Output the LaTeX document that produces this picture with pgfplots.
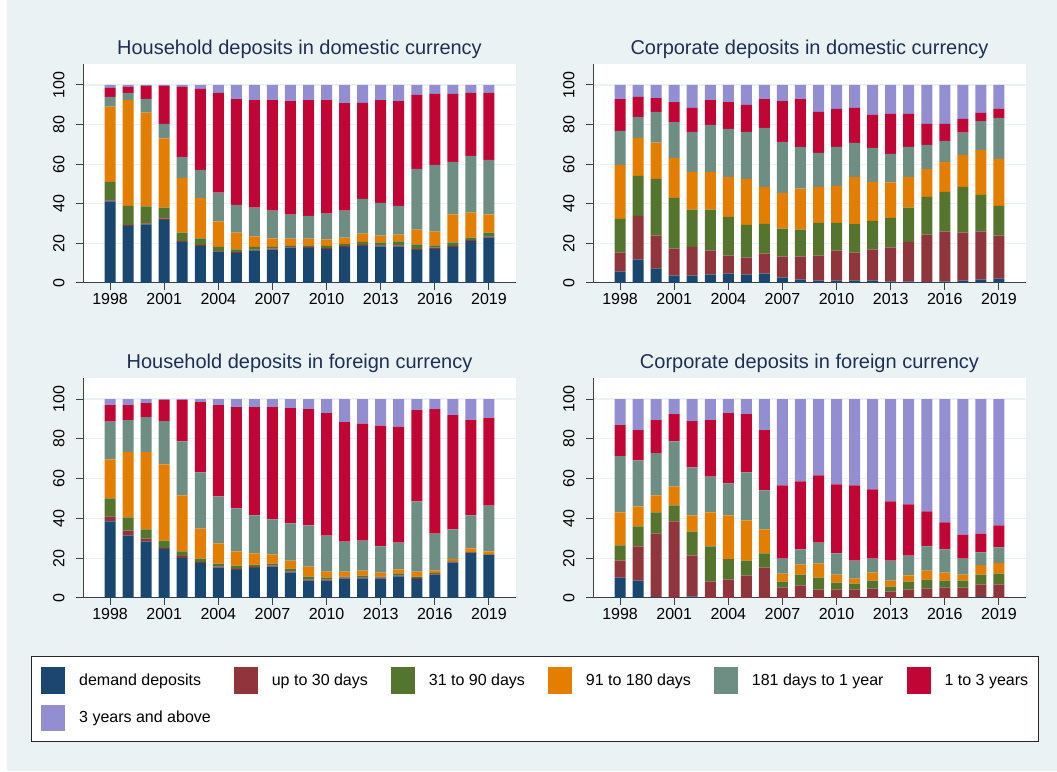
\documentclass[border=0pt]{standalone}
\usepackage{fontspec}
\setmainfont{Liberation Sans}
\usepackage{pgfplots}
\pgfplotsset{compat=1.18}
\usepackage{pgfplotstable}

\definecolor{cA}{RGB}{26,71,111}
\definecolor{cB}{RGB}{144,53,59}
\definecolor{cC}{RGB}{85,117,47}
\definecolor{cD}{RGB}{227,126,0}
\definecolor{cE}{RGB}{110,142,132}
\definecolor{cF}{RGB}{193,5,52}
\definecolor{cG}{RGB}{147,141,210}
\definecolor{bgc}{HTML}{EAF2F3}
\definecolor{titlec}{HTML}{1E2F55}

% household, domestic currency
\pgfplotstableread{
yr a b c d e f g
1998 41.2 0.5 9.4 38.0 4.9 4.5 1.5
1999 28.9 0.5 9.6 53.4 3.6 3.0 1.0
2000 29.6 0.5 8.6 47.3 7.0 6.5 0.5
2001 31.9 0.7 5.4 35.0 7.3 19.2 0.5
2002 20.7 0.5 4.3 27.6 10.6 35.3 1.0
2003 18.7 0.5 3.3 20.5 14.1 40.9 2.0
2004 15.8 0.3 2.2 12.8 14.6 50.3 4.0
2005 15.1 0.5 1.4 8.5 14.0 53.4 7.1
2006 16.5 0.3 1.5 5.2 14.5 54.4 7.6
2007 16.8 0.5 1.0 4.2 14.0 55.9 7.6
2008 17.8 0.4 0.6 3.6 12.1 57.4 8.1
2009 17.6 0.5 0.9 3.4 11.5 58.5 7.6
2010 17.1 0.5 1.1 3.3 13.0 57.4 7.6
2011 18.3 0.5 1.0 3.1 13.6 54.3 9.2
2012 18.8 0.5 1.5 4.1 17.6 48.4 9.1
2013 18.5 0.5 1.5 3.4 16.6 51.9 7.6
2014 18.5 0.5 2.0 3.4 14.6 52.9 8.1
2015 16.6 0.5 2.4 7.4 30.7 37.4 5.0
2016 17.1 0.7 1.2 6.9 33.8 35.8 4.5
2017 18.3 0.5 1.7 14.1 26.6 34.3 4.5
2018 21.2 0.5 1.2 12.7 28.6 31.8 4.0
2019 23.0 0.5 2.0 9.1 27.6 33.8 4.0
}\hhd

% corporate, domestic currency
\pgfplotstableread{
yr a b c d e f g
1998 5.7 9.6 17.1 27.3 17.1 16.1 7.1
1999 11.8 22.1 20.2 19.2 10.6 10.1 6.0
2000 7.4 16.5 28.7 18.3 15.5 7.0 6.6
2001 3.7 13.6 25.7 20.2 18.1 10.1 8.6
2002 3.7 14.6 18.7 19.1 20.2 12.1 11.6
2003 4.2 12.1 20.7 19.1 23.7 12.6 7.6
2004 4.7 9.1 19.6 20.2 24.2 13.6 8.6
2005 4.2 8.6 16.6 23.2 23.7 13.6 10.1
2006 4.7 10.1 15.1 18.7 29.7 14.6 7.1
2007 2.7 10.6 14.1 18.1 25.8 20.6 8.1
2008 1.7 11.6 13.6 20.7 21.1 24.2 7.1
2009 1.2 12.6 16.6 18.2 17.1 20.7 13.6
2010 1.2 15.1 14.1 18.7 19.6 19.2 12.1
2011 1.2 14.1 14.4 23.9 17.2 17.6 11.6
2012 1.2 15.6 14.6 19.7 17.1 16.7 15.1
2013 0.7 17.1 15.1 17.9 14.4 20.2 14.6
2014 0.7 20.1 17.2 15.6 15.1 16.7 14.6
2015 0.3 24.1 19.1 14.1 12.1 10.6 19.7
2016 0.7 25.2 20.1 15.2 10.6 8.5 19.7
2017 1.2 24.2 23.2 16.1 11.3 6.9 17.1
2018 1.7 24.2 18.6 22.7 14.6 4.1 14.1
2019 2.2 21.7 15.1 23.7 20.7 4.5 12.1
}\cod

% household, foreign currency
\pgfplotstableread{
yr a b c d e f g
1998 38.5 2.5 9.1 19.6 19.0 8.3 3.0
1999 31.4 2.5 6.6 32.8 16.1 7.6 3.0
2000 28.4 1.5 4.6 38.8 17.6 7.1 2.0
2001 24.7 0.5 3.7 38.3 21.7 10.6 0.5
2002 20.2 0.8 2.4 28.2 27.2 20.7 0.5
2003 17.6 0.5 1.7 15.1 28.3 35.3 1.5
2004 15.3 0.5 1.5 10.1 23.7 45.9 3.0
2005 14.1 0.5 1.7 7.1 21.6 51.0 4.0
2006 15.1 0.5 1.2 5.6 19.1 54.5 4.0
2007 15.8 0.5 1.0 4.6 17.6 56.5 4.0
2008 12.8 0.5 1.5 4.0 18.7 58.0 4.5
2009 8.7 0.5 1.6 5.0 20.7 58.5 5.0
2010 8.7 0.5 1.1 3.0 18.1 61.5 7.1
2011 9.7 0.6 0.5 2.5 15.1 60.0 11.6
2012 9.9 0.5 0.9 2.5 15.1 58.7 12.4
2013 9.7 0.6 0.5 2.0 13.1 60.7 13.4
2014 10.9 0.5 1.0 2.0 13.5 58.2 13.9
2015 9.6 0.5 0.7 2.5 35.3 45.9 5.5
2016 11.8 0.3 0.5 1.2 18.6 62.6 5.0
2017 17.8 0.5 0.4 1.0 14.8 57.4 8.1
2018 22.7 0.2 0.1 1.9 16.6 47.9 10.6
2019 21.5 0.3 0.2 1.5 23.0 43.9 9.6
}\hhf

% corporate, foreign currency
\pgfplotstableread{
yr a b c d e f g
1998 10.2 8.6 7.6 16.6 28.3 15.6 13.1
1999 8.7 17.2 10.1 10.0 23.2 15.2 15.6
2000 0.5 31.9 10.6 8.6 21.2 16.6 10.6
2001 0.2 38.3 8.1 9.5 22.7 13.6 7.6
2002 0.7 20.6 12.1 8.1 24.2 23.2 11.1
2003 0.0 8.2 17.7 17.1 18.0 28.4 10.6
2004 0.0 9.2 10.3 22.0 16.1 35.3 7.1
2005 0.0 11.3 7.5 20.2 24.2 29.2 7.6
2006 0.0 15.3 7.1 12.1 19.6 30.3 15.6
2007 0.0 5.2 3.0 4.1 7.5 36.8 43.4
2008 0.0 6.2 5.6 5.0 7.6 34.2 41.4
2009 0.0 4.2 6.0 7.1 10.6 33.7 38.4
2010 0.0 4.2 3.5 4.1 10.6 34.7 42.9
2011 0.0 4.2 3.0 2.5 9.1 37.8 43.4
2012 0.0 4.7 4.0 4.1 7.0 34.8 45.4
2013 0.0 3.2 2.5 3.0 10.1 29.8 51.4
2014 0.0 4.2 4.0 3.2 9.9 25.8 52.9
2015 0.0 4.7 4.5 4.6 12.1 17.6 56.5
2016 0.0 5.2 3.5 4.1 11.6 13.6 62.0
2017 0.0 5.2 3.5 3.1 8.0 12.1 68.1
2018 0.5 6.2 5.1 4.7 6.4 9.5 67.6
2019 0.0 6.7 5.6 5.2 7.9 11.1 63.5
}\cof

\newcommand{\stackbars}[1]{%
  \addplot[fill=cA, draw=none] table[x=yr, y=a]{#1};
  \addplot[fill=cB, draw=none] table[x=yr, y=b]{#1};
  \addplot[fill=cC, draw=none] table[x=yr, y=c]{#1};
  \addplot[fill=cD, draw=none] table[x=yr, y=d]{#1};
  \addplot[fill=cE, draw=none] table[x=yr, y=e]{#1};
  \addplot[fill=cF, draw=none] table[x=yr, y=f]{#1};
  \addplot[fill=cG, draw=none] table[x=yr, y=g]{#1};
}

\pgfplotsset{
  panel/.style={
    scale only axis,
    anchor=south west,
    width=433pt, height=219pt,
    xmin=1996.5, xmax=2020.5,
    ymin=0, ymax=110.6,
    enlargelimits=false,
    ybar stacked, bar width=11pt,
    axis lines*=left,
    axis background/.style={fill=white},
    axis line style={black!75, line width=1pt},
    tick style={black!75, line width=1pt},
    tick align=outside,
    major tick length=7pt,
    xtick={1998,2001,...,2019},
    ytick={0,20,...,100},
    ymajorgrids,
    grid style={color=bgc, line width=1.2pt},
    /pgf/number format/assume math mode=true,
    /pgf/number format/1000 sep={},
    tick label style={font=\fontsize{16}{16}\selectfont, text=black},
    yticklabel style={xshift=-8pt, rotate=90, anchor=south},
    title style={font=\fontsize{20}{20}\selectfont, text=titlec,
                 anchor=base, at={(0.5,1)}, yshift=3pt},
  },
}

\begin{document}
\begin{tikzpicture}
\fill[bgc] (0,0) rectangle (1057pt,771pt);
\fill[white] (0,0) rectangle (7pt,771pt);

\begin{axis}[panel, at={(83pt,488pt)},
  title={Household deposits in domestic currency}]
\stackbars{\hhd}
\end{axis}

\begin{axis}[panel, at={(593pt,488pt)},
  title={Corporate deposits in domestic currency}]
\stackbars{\cod}
\end{axis}

\begin{axis}[panel, at={(83pt,173pt)}, height=220pt,
  title={Household deposits in foreign currency}]
\stackbars{\hhf}
\end{axis}

\begin{axis}[panel, at={(593pt,173pt)}, height=220pt,
  title={Corporate deposits in foreign currency}]
\stackbars{\cof}
\end{axis}

% shared legend
\begin{axis}[
  at={(534.7pt,72pt)}, anchor=center,
  scale only axis, width=1pt, height=1pt,
  hide axis, xmin=0, xmax=1, ymin=0, ymax=1,
  legend columns=6,
  legend cell align=left,
  legend style={
    at={(0.5,0.5)}, anchor=center,
    draw=black!85, line width=1pt, fill=white,
    font=\fontsize{16}{16}\selectfont,
    inner xsep=10pt, inner ysep=11pt,
    column sep=14pt, row sep=11pt,
    /tikz/every even column/.append style={column sep=23pt},
    nodes={inner sep=0pt},
  },
  legend image code/.code={
    \fill[#1] (0pt,-13pt) rectangle (24pt,13pt);
  },
]
\addlegendimage{fill=cA, draw=none}
\addlegendentry{demand deposits}
\addlegendimage{fill=cB, draw=none}
\addlegendentry{up to 30 days}
\addlegendimage{fill=cC, draw=none}
\addlegendentry{31 to 90 days}
\addlegendimage{fill=cD, draw=none}
\addlegendentry{91 to 180 days}
\addlegendimage{fill=cE, draw=none}
\addlegendentry{181 days to 1 year}
\addlegendimage{fill=cF, draw=none}
\addlegendentry{1 to 3 years}
\addlegendimage{fill=cG, draw=none}
\addlegendentry{3 years and above}
\end{axis}
\end{tikzpicture}
\end{document}
